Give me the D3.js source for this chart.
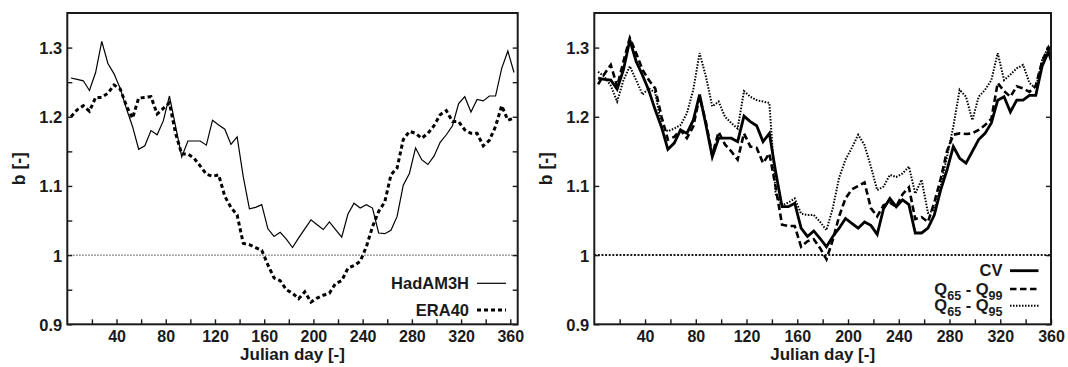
<!DOCTYPE html>
<html>
<head>
<meta charset="utf-8">
<script src="https://cdn.jsdelivr.net/npm/d3@7"></script>
<style>
  body { margin: 0; background: #fff; }
  svg text { font-family: "Liberation Sans", Arial, Helvetica, sans-serif; font-weight: bold; fill: #1a1a1a; }
</style>
</head>
<body>
<script>
// Pentad centres (Julian day)
const days = [
  3, 8, 13, 18, 23, 28, 33, 38, 43, 48,
  53, 58, 63, 68, 73, 78, 83, 88, 93, 98,
  103, 108, 113, 118, 123, 128, 133, 138, 143, 148,
  153, 158, 163, 168, 173, 178, 183, 188, 193, 198,
  203, 208, 213, 218, 223, 228, 233, 238, 243, 248,
  253, 258, 263, 268, 273, 278, 283, 288, 293, 298,
  303, 308, 313, 318, 323, 328, 333, 338, 343, 348,
  353, 358, 363
];

// Left panel
const hadam3h = [
  1.256, 1.254, 1.252, 1.238, 1.264, 1.309, 1.277, 1.262, 1.241, 1.212,
  1.186, 1.153, 1.158, 1.180, 1.174, 1.194, 1.230, 1.186, 1.142, 1.165,
  1.165, 1.165, 1.159, 1.195, 1.188, 1.182, 1.160, 1.171, 1.113, 1.067,
  1.069, 1.073, 1.038, 1.027, 1.033, 1.023, 1.011, 1.025, 1.038, 1.051,
  1.044, 1.037, 1.048, 1.037, 1.026, 1.059, 1.075, 1.068, 1.073, 1.068,
  1.032, 1.031, 1.036, 1.056, 1.101, 1.118, 1.155, 1.138, 1.131, 1.143,
  1.163, 1.174, 1.187, 1.219, 1.229, 1.207, 1.225, 1.223, 1.230, 1.230,
  1.270, 1.295, 1.264
];
const era40 = [
  1.200, 1.210, 1.216, 1.208, 1.228, 1.228, 1.234, 1.246, 1.240, 1.216,
  1.198, 1.227, 1.228, 1.229, 1.204, 1.212, 1.220, 1.176, 1.146, 1.146,
  1.140, 1.129, 1.117, 1.114, 1.116, 1.085, 1.069, 1.058, 1.017, 1.015,
  1.011, 1.007, 0.986, 0.967, 0.963, 0.950, 0.945, 0.937, 0.947, 0.932,
  0.938, 0.942, 0.945, 0.959, 0.963, 0.981, 0.985, 0.991, 1.012, 1.041,
  1.063, 1.077, 1.116, 1.126, 1.167, 1.179, 1.176, 1.169, 1.176, 1.187,
  1.203, 1.209, 1.193, 1.193, 1.181, 1.176, 1.176, 1.158, 1.166, 1.186,
  1.216, 1.195, 1.198
];

// Right panel
const cv = [
  1.256, 1.254, 1.253, 1.240, 1.268, 1.311, 1.280, 1.260, 1.238, 1.210,
  1.185, 1.153, 1.162, 1.181, 1.176, 1.195, 1.232, 1.188, 1.142, 1.169,
  1.169, 1.169, 1.164, 1.201, 1.193, 1.187, 1.164, 1.176, 1.120, 1.070,
  1.070, 1.075, 1.039, 1.027, 1.035, 1.024, 1.012, 1.027, 1.039, 1.053,
  1.046, 1.039, 1.048, 1.043, 1.030, 1.067, 1.082, 1.070, 1.080, 1.073,
  1.032, 1.032, 1.039, 1.058, 1.094, 1.123, 1.157, 1.140, 1.133, 1.150,
  1.167, 1.176, 1.191, 1.224, 1.229, 1.207, 1.224, 1.224, 1.231, 1.231,
  1.273, 1.294, 1.264
];
const q65q99 = [
  1.247, 1.262, 1.275, 1.244, 1.280, 1.314, 1.292, 1.268, 1.253, 1.241,
  1.200, 1.167, 1.171, 1.181, 1.169, 1.186, 1.229, 1.192, 1.145, 1.178,
  1.160, 1.150, 1.138, 1.176, 1.157, 1.155, 1.133, 1.147, 1.098, 1.044,
  1.042, 1.042, 1.012, 1.020, 1.023, 1.010, 0.994, 1.022, 1.056, 1.082,
  1.095, 1.100, 1.105, 1.068, 1.056, 1.072, 1.076, 1.070, 1.088, 1.098,
  1.052, 1.055, 1.048, 1.076, 1.110, 1.150, 1.174, 1.176, 1.175, 1.176,
  1.181, 1.188, 1.197, 1.249, 1.237, 1.229, 1.244, 1.241, 1.236, 1.245,
  1.280, 1.300, 1.280
];
const q65q95 = [
  1.265, 1.258, 1.245, 1.222, 1.253, 1.273, 1.253, 1.232, 1.241, 1.235,
  1.186, 1.179, 1.183, 1.188, 1.205, 1.239, 1.292, 1.258, 1.215, 1.222,
  1.200, 1.191, 1.183, 1.237, 1.229, 1.224, 1.222, 1.220, 1.088, 1.072,
  1.076, 1.082, 1.060, 1.058, 1.058, 1.048, 1.036, 1.068, 1.112, 1.138,
  1.155, 1.174, 1.159, 1.128, 1.094, 1.099, 1.116, 1.113, 1.118, 1.128,
  1.089, 1.109, 1.061, 1.065, 1.099, 1.142, 1.186, 1.239, 1.229, 1.195,
  1.229, 1.239, 1.253, 1.292, 1.253, 1.261, 1.270, 1.275, 1.249, 1.241,
  1.282, 1.301, 1.290
];

// Axis ticks
const xTicks = [20, 40, 60, 80, 100, 120, 140, 160, 180, 200, 220, 240, 260, 280, 300, 320, 340, 360];
const xLabelled = [40, 80, 120, 160, 200, 240, 280, 320, 360];
const yTicksFine = [0.9, 0.95, 1.0, 1.05, 1.1, 1.15, 1.2, 1.25, 1.3];
const yTicksCoarse = [0.9, 1.0, 1.1, 1.2, 1.3];
const yLabels = { "0.9": "0.9", "1": "1", "1.1": "1.1", "1.2": "1.2", "1.3": "1.3" };

const width = 1068;
const height = 367;
const yTop = 13;
const yBottom = 324.3;
const ink = "#1a1a1a";

const svg = d3.create("svg")
  .attr("width", width)
  .attr("height", height)
  .attr("viewBox", [0, 0, width, height]);

function drawPanel(p) {
  const x = d3.scaleLinear().domain([0, p.xMax]).range([p.left, p.right]);
  const y = d3.scaleLinear().domain([0.9, 1.35]).range([yBottom, yTop]);
  const g = svg.append("g");

  const clipId = "clip-" + p.id;
  svg.append("clipPath").attr("id", clipId)
    .append("rect")
    .attr("x", p.left).attr("y", yTop)
    .attr("width", p.right - p.left).attr("height", yBottom - yTop);

  // reference line at b = 1
  g.append("line")
    .attr("x1", p.left).attr("x2", p.right)
    .attr("y1", y(1)).attr("y2", y(1))
    .attr("stroke", ink)
    .attr("stroke-width", p.refWidth)
    .attr("stroke-dasharray", p.refDash);

  // bottom axis
  const xAxis = d3.axisBottom(x)
    .tickValues(xTicks.filter(d => d <= p.xMax))
    .tickSize(-5)
    .tickPadding(6.5)
    .tickFormat(d => xLabelled.includes(d) ? d : "");
  g.append("g")
    .attr("transform", `translate(0,${yBottom})`)
    .call(xAxis)
    .call(a => a.select(".domain").remove())
    .call(a => a.selectAll("line").attr("stroke", ink).attr("stroke-width", 1.4))
    .call(a => a.selectAll("text").attr("font-size", 16).attr("font-family", null));

  // left axis
  const yAxis = d3.axisLeft(y)
    .tickValues(p.yTicks)
    .tickSize(-5)
    .tickPadding(5)
    .tickFormat(d => yLabels[String(+d.toFixed(2))] || "");
  g.append("g")
    .attr("transform", `translate(${p.left},0)`)
    .call(yAxis)
    .call(a => a.select(".domain").remove())
    .call(a => a.selectAll("line").attr("stroke", ink).attr("stroke-width", 1.4))
    .call(a => a.selectAll("text").attr("font-size", 16.5).attr("font-family", null).attr("dy", "0.36em"));

  // right axis (ticks only)
  g.append("g")
    .attr("transform", `translate(${p.right},0)`)
    .call(d3.axisRight(y).tickValues(p.yTicks).tickSize(-5).tickFormat(""))
    .call(a => a.select(".domain").remove())
    .call(a => a.selectAll("line").attr("stroke", ink).attr("stroke-width", 1.4));

  // series
  const line = d3.line()
    .x((d, i) => x(days[i]))
    .y(d => y(d));
  const lines = g.append("g").attr("clip-path", `url(#${clipId})`);
  p.series.forEach(s => {
    lines.append("path")
      .datum(s.values)
      .attr("fill", "none")
      .attr("stroke", "#000")
      .attr("stroke-width", s.width)
      .attr("stroke-dasharray", s.dash)
      .attr("stroke-linejoin", "miter")
      .attr("d", line);
  });

  // frame
  g.append("rect")
    .attr("x", p.left).attr("y", yTop)
    .attr("width", p.right - p.left).attr("height", yBottom - yTop)
    .attr("fill", "none")
    .attr("stroke", ink)
    .attr("stroke-width", 2);

  // axis titles
  g.append("text")
    .attr("x", (p.left + p.right) / 2)
    .attr("y", 360)
    .attr("text-anchor", "middle")
    .attr("font-size", 17)
    .text("Julian day [-]");
  g.append("text")
    .attr("transform", `translate(${p.left - 42},${(yTop + yBottom) / 2}) rotate(-90)`)
    .attr("text-anchor", "middle")
    .attr("font-size", 17.5)
    .text("b [-]");

  // legend
  p.series.forEach((s, i) => {
    const ly = p.legendY[i];
    const t = g.append("text")
      .attr("x", p.legendTextX)
      .attr("y", ly + 5.5)
      .attr("text-anchor", "end")
      .attr("font-size", 16.5);
    if (s.sub) {
      t.append("tspan").text("Q");
      t.append("tspan").attr("font-size", 12.5).attr("dy", 5).text(s.sub[0]);
      t.append("tspan").attr("dy", -5).text(" - Q");
      t.append("tspan").attr("font-size", 12.5).attr("dy", 5).text(s.sub[1]);
    } else {
      t.text(s.name);
    }
    g.append("line")
      .attr("x1", p.legendLine[0]).attr("x2", p.legendLine[1])
      .attr("y1", ly).attr("y2", ly)
      .attr("stroke", "#000")
      .attr("stroke-width", s.width)
      .attr("stroke-dasharray", s.dash);
  });
}

drawPanel({
  id: "left",
  left: 67.3, right: 517.7, xMax: 366,
  yTicks: yTicksFine,
  refWidth: 1, refDash: "1.3,1.7",
  series: [
    { name: "HadAM3H", values: hadam3h, width: 1.2, dash: null },
    { name: "ERA40", values: era40, width: 3, dash: "4,3" }
  ],
  legendY: [283.3, 310],
  legendTextX: 469,
  legendLine: [477, 506]
});

drawPanel({
  id: "right",
  left: 594.3, right: 1051, xMax: 360,
  yTicks: yTicksCoarse,
  refWidth: 2, refDash: "2,1.6",
  series: [
    { name: "CV", values: cv, width: 2.8, dash: null },
    { name: "Q65 - Q99", sub: ["65", "99"], values: q65q99, width: 2.6, dash: "6.5,3.5" },
    { name: "Q65 - Q95", sub: ["65", "95"], values: q65q95, width: 2, dash: "1.5,1.5" }
  ],
  legendY: [270.7, 289, 305.7],
  legendTextX: 1002.5,
  legendLine: [1010, 1038.5]
});

document.body.appendChild(svg.node());
</script>
</body>
</html>
